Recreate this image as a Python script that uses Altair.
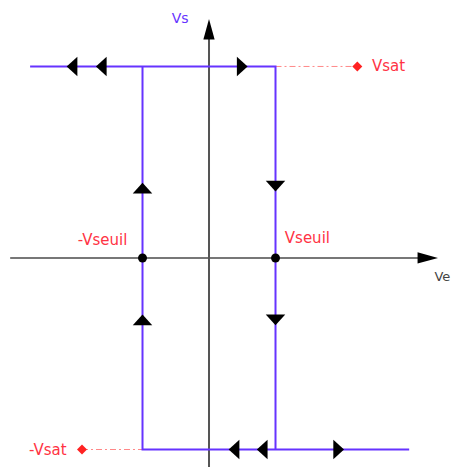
import altair as alt
import pandas as pd

# Characteristic values (arbitrary units, origin at axes crossing)
v_seuil = 1.0
v_sat = 2.88

# Hysteresis loop outline (path order)
loop_x = [-2.69, 1.0, 1.0, 3.01, -1.0, -1.0, 1.0]
loop_y = [2.88, 2.88, -2.88, -2.88, -2.88, 2.88, 2.88]

# Axes
xaxis_x = [-2.99, 3.30]
xaxis_y = [0, 0]
yaxis_x = [0, 0]
yaxis_y = [-3.3, 3.45]

# Axis arrowheads
axarrow_x = [3.29, 0.0]
axarrow_y = [0.0, 3.44]
axarrow_dir = ["right", "up"]

# Flow arrows on the loop
arrow_x = [-2.06, -1.62, 0.50, 0.376, 0.80, 1.95, -1.0, -1.0, 1.0, 1.0]
arrow_y = [2.88, 2.88, 2.88, -2.88, -2.88, -2.88, 1.05, -0.93, 1.08, -0.93]
arrow_dir = ["left", "left", "right", "left", "left", "right", "up", "up", "down", "down"]

# Threshold points
dot_x = [-1.0, 1.0]
dot_y = [0.0, 0.0]

# Saturation markers
sat_x = [2.23, -1.91]
sat_y = [2.88, -2.88]
dash_top_x = [1.0, 2.23]
dash_bot_x = [-1.91, -1.0]

# Labels
red_labels = ["Vsat", "-Vsat", "-Vseuil", "Vseuil"]
red_x = [2.45, -2.14, -1.60, 1.14]
red_y = [2.88, -2.88, 0.27, 0.30]
red_align = ["left", "right", "center", "left"]

X = alt.Scale(domain=[-3.0226, 3.654])
Y = alt.Scale(domain=[-3.143, 3.759])

def xe(f="x"):
    return alt.X(f"{f}:Q", scale=X, axis=None)

def ye(f="y"):
    return alt.Y(f"{f}:Q", scale=Y, axis=None)

purple = "#6633ff"
red = "#ff3344"
axcol = "#555555"

loop_df = pd.DataFrame({"x": loop_x, "y": loop_y, "o": list(range(len(loop_x)))})
loop = alt.Chart(loop_df).mark_line(color=purple, strokeWidth=2, clip=False).encode(
    x=xe(), y=ye(), order="o:Q")

xa = alt.Chart(pd.DataFrame({"x": xaxis_x, "y": xaxis_y})).mark_line(
    color="#777777", strokeWidth=2, clip=False).encode(x=xe(), y=ye())
ya = alt.Chart(pd.DataFrame({"x": yaxis_x, "y": yaxis_y})).mark_line(
    color=axcol, strokeWidth=2, clip=False).encode(x=xe(), y=ye())

# long arrowheads for axes (depth 20, base 11)
long_shapes = {
    "right": "M-1,-0.55 L1,0 L-1,0.55 Z",
    "up": "M-0.55,1 L0,-1 L0.55,1 Z",
}
# flat arrowheads for the loop (depth ~11, base ~20)
flat_shapes = {
    "left": "M0.55,-1 L-0.55,0 L0.55,1 Z",
    "right": "M-0.55,-1 L0.55,0 L-0.55,1 Z",
    "up": "M-1,0.55 L0,-0.55 L1,0.55 Z",
    "down": "M-1,-0.55 L0,0.55 L1,-0.55 Z",
}

layers_arrows = []
ax_df = pd.DataFrame({"x": axarrow_x, "y": axarrow_y, "d": axarrow_dir})
for d, p in long_shapes.items():
    sub = ax_df[ax_df.d == d]
    layers_arrows.append(
        alt.Chart(sub).mark_point(shape=p, filled=True, color="black", opacity=1,
                                  size=420, strokeWidth=0, clip=False).encode(x=xe(), y=ye()))
arr_df = pd.DataFrame({"x": arrow_x, "y": arrow_y, "d": arrow_dir})
for d, p in flat_shapes.items():
    sub = arr_df[arr_df.d == d]
    layers_arrows.append(
        alt.Chart(sub).mark_point(shape=p, filled=True, color="black", opacity=1,
                                  size=380, strokeWidth=0, clip=False).encode(x=xe(), y=ye()))

dots = alt.Chart(pd.DataFrame({"x": dot_x, "y": dot_y})).mark_circle(
    color="black", size=80, opacity=1).encode(x=xe(), y=ye())

dash_df = pd.DataFrame({"x": dash_top_x + dash_bot_x,
                        "y": [v_sat, v_sat, -v_sat, -v_sat],
                        "g": ["t", "t", "b", "b"]})
dashes = alt.Chart(dash_df).mark_line(color="#ff8888", strokeWidth=1,
                                       strokeDash=[6, 3, 2, 3]).encode(
    x=xe(), y=ye(), detail="g:N")

diam = alt.Chart(pd.DataFrame({"x": sat_x, "y": sat_y})).mark_point(
    shape="diamond", filled=True, color="#ff2222", size=100, opacity=1).encode(x=xe(), y=ye())

lab_df = pd.DataFrame({"t": red_labels, "x": red_x, "y": red_y, "a": red_align})
red_layers = []
for a in ["left", "right", "center"]:
    sub = lab_df[lab_df.a == a]
    red_layers.append(alt.Chart(sub).mark_text(
        align=a, baseline="middle", font="DejaVu Sans", fontSize=15, color=red).encode(
        x=xe(), y=ye(), text="t:N"))

ve = alt.Chart(pd.DataFrame({"t": ["Ve"], "x": [3.39], "y": [-0.29]})).mark_text(
    align="left", baseline="middle", font="DejaVu Sans", fontSize=13, color="#444444").encode(
    x=xe(), y=ye(), text="t:N")
vs = alt.Chart(pd.DataFrame({"t": ["Vs"], "x": [-0.56], "y": [3.59]})).mark_text(
    align="left", baseline="middle", font="DejaVu Sans", fontSize=14, color=purple).encode(
    x=xe(), y=ye(), text="t:N")

chart = alt.layer(dashes, xa, ya, loop, *layers_arrows, dots, diam, *red_layers, ve, vs).properties(
    width=444, height=459, autosize="none", padding=0
).configure_view(stroke=None)

chart.save("out.html", embed_options={"renderer": "svg", "actions": False})
